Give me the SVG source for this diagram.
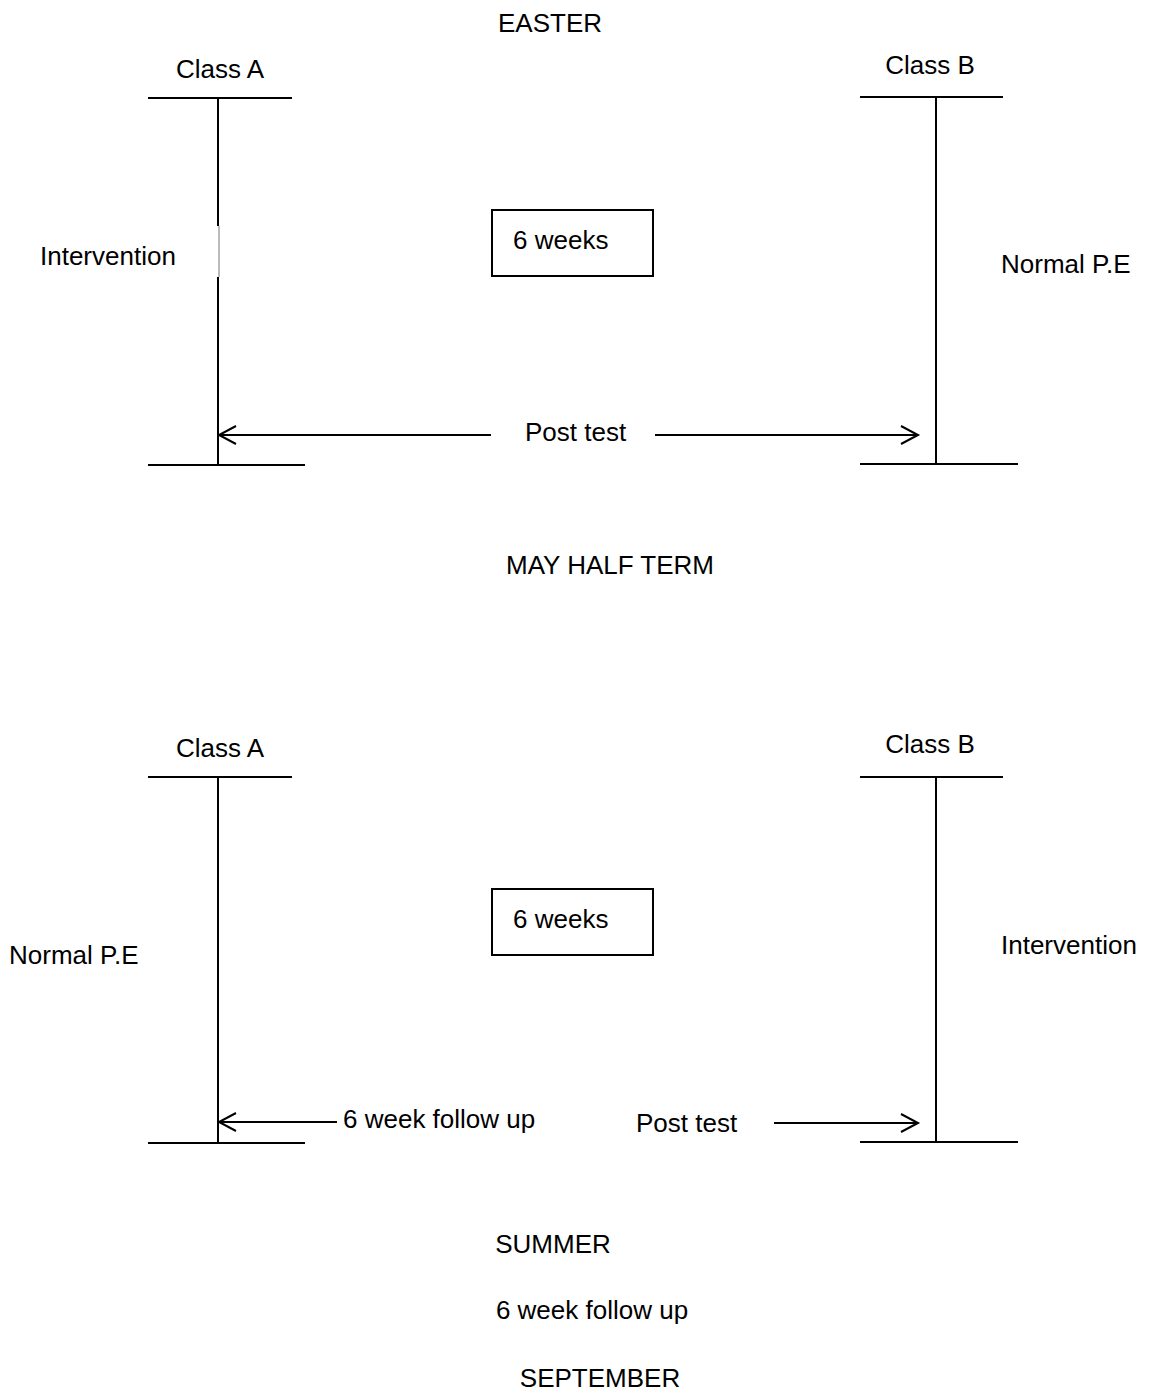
<svg xmlns="http://www.w3.org/2000/svg" width="1155" height="1394" viewBox="0 0 1155 1394">
<style>
text{font-family:"Liberation Sans",Arial,sans-serif;font-size:26px;fill:#000}
.ln{stroke:#000;stroke-width:2;fill:none}
.thin{stroke:#777;stroke-width:1;fill:none}
.mid{text-anchor:middle}
</style>
<rect width="1155" height="1394" fill="#fff"/>
<g id="labels">
<text class="mid" x="550" y="32">EASTER</text>
<text class="mid" x="610" y="574">MAY HALF TERM</text>
<text class="mid" x="553" y="1253">SUMMER</text>
<text class="mid" x="592" y="1319">6 week follow up</text>
<text class="mid" x="600" y="1387">SEPTEMBER</text>
</g>
<g id="top-classA">
<text class="mid" x="220" y="78">Class A</text>
<line class="ln" x1="148" y1="98" x2="292" y2="98"/>
<line class="ln" x1="218" y1="98" x2="218" y2="226"/>
<line class="thin" x1="219" y1="226" x2="219" y2="277"/>
<line class="ln" x1="218" y1="277" x2="218" y2="465"/>
<line class="ln" x1="148" y1="465" x2="305" y2="465"/>
<text x="40" y="265">Intervention</text>
</g>
<g id="top-classB">
<text class="mid" x="930" y="74">Class B</text>
<line class="ln" x1="860" y1="97" x2="1003" y2="97"/>
<line class="ln" x1="936" y1="97" x2="936" y2="464"/>
<line class="ln" x1="860" y1="464" x2="1018" y2="464"/>
<text x="1001" y="273">Normal P.E</text>
</g>
<g id="top-box">
<rect class="ln" x="492" y="210" width="161" height="66"/>
<text x="513" y="249">6 weeks</text>
</g>
<g id="top-posttest">
<text x="525" y="441">Post test</text>
</g>
<g id="bottom-classA">
<text class="mid" x="220" y="757">Class A</text>
<line class="ln" x1="148" y1="777" x2="292" y2="777"/>
<line class="ln" x1="218" y1="777" x2="218" y2="1143"/>
<line class="ln" x1="148" y1="1143" x2="305" y2="1143"/>
<text x="9" y="964">Normal P.E</text>
</g>
<g id="bottom-classB">
<text class="mid" x="930" y="753">Class B</text>
<line class="ln" x1="860" y1="777" x2="1003" y2="777"/>
<line class="ln" x1="936" y1="777" x2="936" y2="1142"/>
<line class="ln" x1="860" y1="1142" x2="1018" y2="1142"/>
<text x="1001" y="954">Intervention</text>
</g>
<g id="bottom-box">
<rect class="ln" x="492" y="889" width="161" height="66"/>
<text x="513" y="928">6 weeks</text>
</g>
<g id="bottom-texts">
<text x="343" y="1128">6 week follow up</text>
<text x="636" y="1132">Post test</text>
</g>
<g id="connectors">
<line class="ln" x1="491" y1="435" x2="219" y2="435"/>
<polyline class="ln" points="236,426 219,435 236,444"/>
<line class="ln" x1="655" y1="435" x2="918" y2="435"/>
<polyline class="ln" points="901,426 918,435 901,444"/>
<line class="ln" x1="337" y1="1122" x2="219" y2="1122"/>
<polyline class="ln" points="236,1113 219,1122 236,1131"/>
<line class="ln" x1="774" y1="1123" x2="918" y2="1123"/>
<polyline class="ln" points="901,1114 918,1123 901,1132"/>
</g>
</svg>
